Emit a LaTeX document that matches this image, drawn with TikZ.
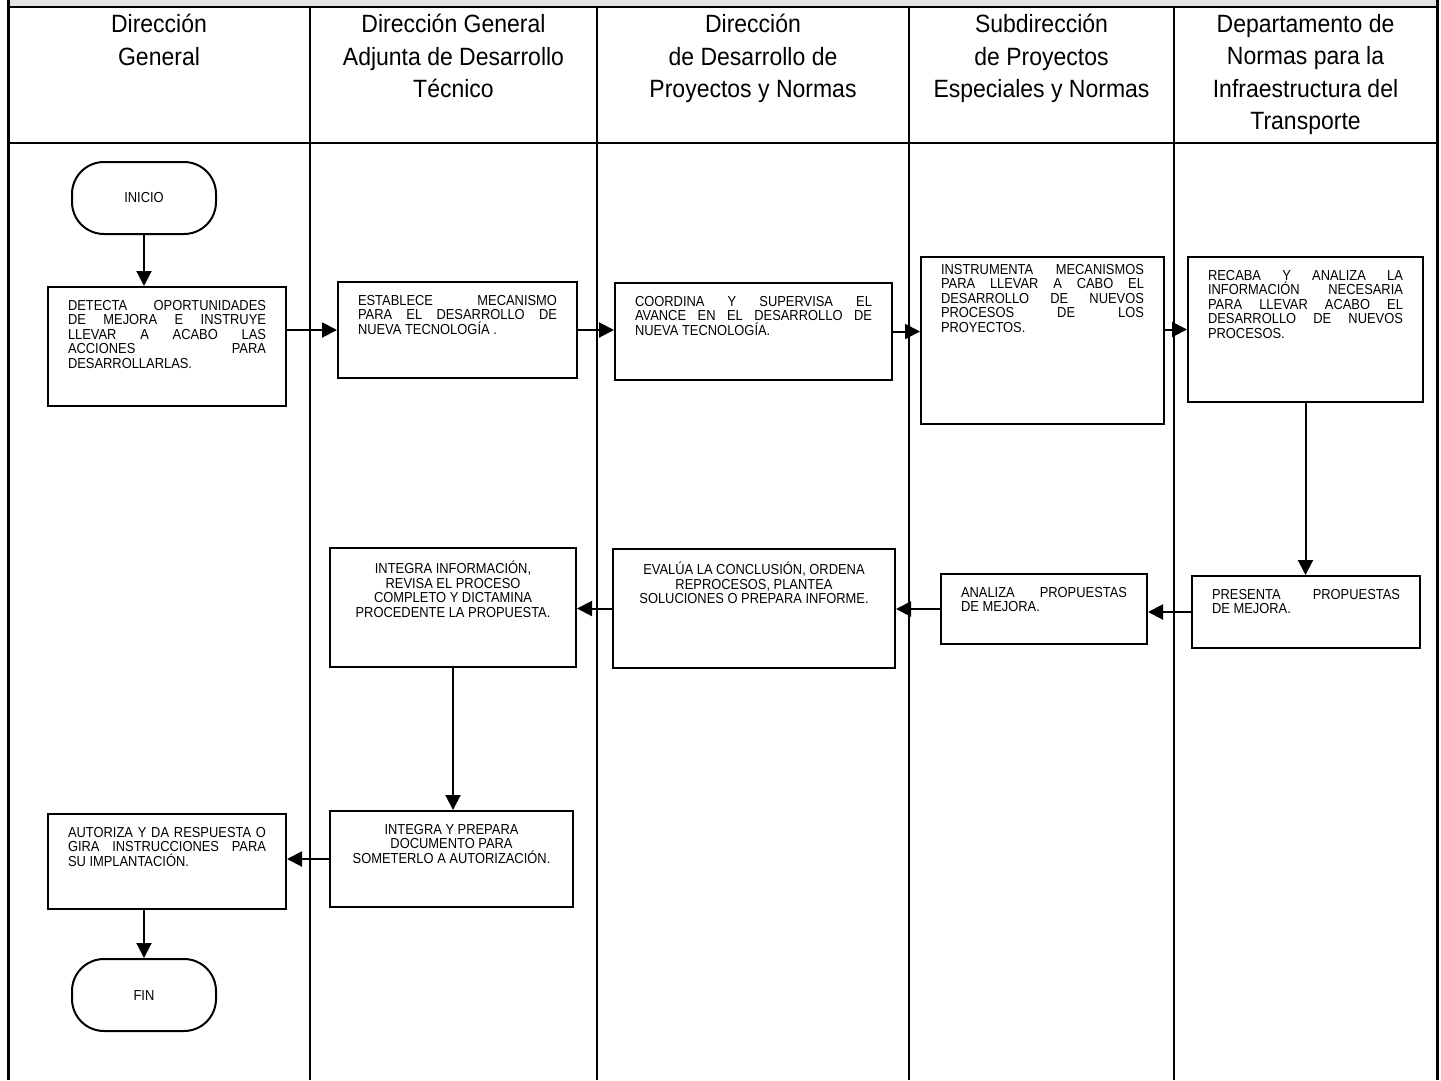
\documentclass[tikz,border=0pt]{standalone}
\usepackage{fontspec}
\setmainfont{Liberation Sans}
\newfontfamily\lanefamily[FakeStretch=0.92]{Liberation Sans}
\newfontfamily\taskfamily[FakeStretch=0.89]{Liberation Sans}
\newcommand{\lanefont}{\lanefamily\fontsize{25pt}{32.5pt}\selectfont}
\newcommand{\taskfont}{\taskfamily\fontsize{14.5pt}{14.5pt}\selectfont}
\newcommand{\jline}[1]{\makebox[\linewidth][s]{#1}}
\newcommand{\taskbox}[3]{\parbox[t][#2][t]{#1}{#3}}
\usepackage{tikz}
\usetikzlibrary{arrows.meta,shapes.misc}

\begin{document}
\begin{tikzpicture}[x=1pt, y=-1pt,
        lane/.style={font=\lanefont, align=center, anchor=north, inner sep=0pt},
        task/.style={draw, line width=2pt, anchor=north west, inner xsep=20pt, inner ysep=13pt, font=\taskfont},
        terminal/.style={draw, line width=2pt, rounded corners=32pt, minimum width=144pt, minimum height=72pt, font=\taskfont},
        flow/.style={->, line width=2pt},
        >={Triangle[length=15pt, width=15pt]}]

        \useasboundingbox (0,0) rectangle (1441,1080);

        % Swimlane frame
        \fill[gray!22] (8,0) rectangle (1437,7);
        \draw[line width=2.5pt] (8,7) -- (1437,7);
        \draw[line width=2.5pt] (8,143) -- (1437,143);
        \draw[line width=3pt] (8,0) -- (8,1080);
        \draw[line width=3pt] (1437,0) -- (1437,1080);
        \draw[line width=2pt] (310,7) -- (310,1080);
        \draw[line width=2pt] (597,7) -- (597,1080);
        \draw[line width=2pt] (909,7) -- (909,1080);
        \draw[line width=2pt] (1174,7) -- (1174,1080);

        % Lane headers
        \node[lane] (dg) at (159,14) {Dirección\\General};
        \node[lane] (dgadt) at (453.5,14) {Dirección General\\Adjunta de Desarrollo\\Técnico};
        \node[lane] (ddpn) at (753,14) {Dirección\\de Desarrollo de\\Proyectos y Normas};
        \node[lane] (spen) at (1041.5,14) {Subdirección\\de Proyectos\\Especiales y Normas};
        \node[lane] (dnit) at (1305.5,14) {Departamento de\\Normas para la\\Infraestructura del\\Transporte};

        % Upper row
        \node[terminal] (inicio) at (144,198) {INICIO};
        \node[task] (detecta) at (47,286) {\taskbox{198pt}{93pt}{\jline{DETECTA OPORTUNIDADES}\\\jline{DE MEJORA  E INSTRUYE}\\\jline{LLEVAR A ACABO LAS}\\\jline{ACCIONES PARA}\\DESARROLLARLAS.}};
        \node[task] (establece) at (337,281) {\taskbox{199pt}{70pt}{\jline{ESTABLECE MECANISMO}\\\jline{PARA EL DESARROLLO DE}\\NUEVA TECNOLOGÍA .}};
        \node[task] (coordina) at (614,282) {\taskbox{237pt}{71pt}{\jline{COORDINA Y SUPERVISA EL}\\\jline{AVANCE EN EL DESARROLLO DE}\\NUEVA TECNOLOGÍA.}};
        \node[task, inner ysep=7pt] (instrumenta) at (920,256) {\taskbox{203pt}{153pt}{\jline{INSTRUMENTA MECANISMOS}\\\jline{PARA LLEVAR A CABO EL}\\\jline{DESARROLLO DE NUEVOS}\\\jline{PROCESOS DE LOS}\\PROYECTOS.}};
        \node[task] (recaba) at (1187,256) {\taskbox{195pt}{119pt}{\jline{RECABA Y ANALIZA LA}\\\jline{INFORMACIÓN NECESARIA}\\\jline{PARA LLEVAR ACABO EL}\\\jline{DESARROLLO DE NUEVOS}\\PROCESOS.}};

        % Middle row
        \node[task] (presenta) at (1191,575) {\taskbox{188pt}{46pt}{\jline{PRESENTA PROPUESTAS}\\DE MEJORA.}};
        \node[task] (analiza) at (940,573) {\taskbox{166pt}{44pt}{\jline{ANALIZA PROPUESTAS}\\DE MEJORA.}};
        \node[task] (evalua) at (612,548) {\taskbox{242pt}{93pt}{\centering EVALÚA LA CONCLUSIÓN, ORDENA\\REPROCESOS, PLANTEA\\SOLUCIONES O PREPARA INFORME.}};
        \node[task] (integra) at (329,547) {\taskbox{206pt}{93pt}{\centering INTEGRA INFORMACIÓN,\\REVISA EL PROCESO\\COMPLETO Y DICTAMINA\\PROCEDENTE LA PROPUESTA.}};

        % Lower row
        \node[task] (prepara) at (329,810) {\taskbox{203pt}{70pt}{\centering INTEGRA Y PREPARA\\DOCUMENTO PARA\\SOMETERLO A AUTORIZACIÓN.}};
        \node[task] (autoriza) at (47,813) {\taskbox{198pt}{69pt}{\jline{AUTORIZA Y DA RESPUESTA O}\\\jline{GIRA INSTRUCCIONES PARA}\\SU IMPLANTACIÓN.}};
        \node[terminal] (fin) at (144,995) {FIN};

        % Connections
        \draw[flow] (inicio) -- (inicio |- detecta.north);
        \draw[flow] (detecta.east |- establece) -- (establece.west);
        \draw[flow] (establece.east) -- (establece.east -| coordina.west);
        \draw[flow] (coordina.east) -- (coordina.east -| instrumenta.west);
        \draw[flow] (instrumenta.east |- recaba) -- (recaba.west);
        \draw[flow] (recaba.south) -- (recaba.south |- presenta.north);
        \draw[flow] (presenta.west) -- (presenta.west -| analiza.east);
        \draw[flow] (analiza.west) -- (analiza.west -| evalua.east);
        \draw[flow] (evalua.west) -- (evalua.west -| integra.east);
        \draw[flow] (integra.south) -- (integra.south |- prepara.north);
        \draw[flow] (prepara.west) -- (prepara.west -| autoriza.east);
        \draw[flow] (fin |- autoriza.south) -- (fin.north);

\end{tikzpicture}
\end{document}
